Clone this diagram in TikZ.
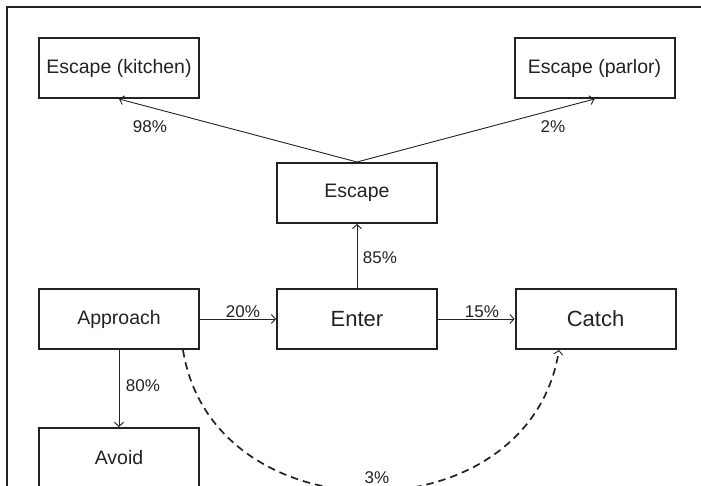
\documentclass[tikz,border=0pt]{standalone}
\usepackage{fontspec}
\setmainfont{Liberation Sans}
\usetikzlibrary{arrows.meta}
\definecolor{ink}{HTML}{222222}
\tikzset{
  box/.style={draw=ink, text=ink, line width=2pt, minimum width=160pt, minimum height=60pt, inner sep=0pt,
    font=\fontsize{19.5}{23}\selectfont},
  bigbox/.style={box, font=\fontsize{22}{26}\selectfont},
  conn/.style={draw=ink, line width=0.9pt, -{Straight Barb[length=4pt,width=9pt,line width=0.9pt]}},
  dconn/.style={draw=ink, line width=1.7pt, dash pattern=on 7.5pt off 5pt,
    -{Straight Barb[length=4pt,width=9pt,line width=0.9pt]}},
  lbl/.style={text=ink, inner sep=0pt, font=\fontsize{17}{20}\selectfont},
}
\begin{document}
\begin{tikzpicture}[x=1pt,y=1pt]
\clip (0,0) rectangle (701,-486);
\useasboundingbox (0,0) rectangle (701,-486);
\draw[ink, line width=1.4pt] (7,-520) -- (7,-7) -- (720,-7);

\node[box] (kitchen) at (119,-68) {Escape (kitchen)};
\node[box] (parlor) at (594.5,-68) {Escape (parlor)};
\node[box] (escape) at (357,-193) {Escape};
\node[box] (approach) at (119,-319) {Approach};
\node[bigbox] (enter) at (357,-319) {Enter};
\node[bigbox] (catch) at (595.5,-319) {Catch};
\node[box] (avoid) at (119,-458) {Avoid};

\draw[conn] (escape.north) -- (kitchen.south);
\draw[conn] (escape.north) -- (parlor.south);
\draw[conn] (enter.north) -- (escape.south);
\draw[conn] (approach.east) -- (enter.west);
\draw[conn] (enter.east) -- (catch.west);
\draw[conn] (approach.south) -- (avoid.north);
\draw[dconn] ([xshift=-17pt]approach.south east) .. controls +(30,-188) and +(-30,-188) .. ([xshift=-36.5pt]catch.south);

\node[lbl] (l98) at (150,-127) {98\%};
\node[lbl] (l2) at (553,-127) {2\%};
\node[lbl] (l85) at (380,-258) {85\%};
\node[lbl] (l20) at (243,-312) {20\%};
\node[lbl] (l15) at (482,-312) {15\%};
\node[lbl] (l80) at (143,-386) {80\%};
\node[lbl] (l3) at (377,-478) {3\%};
\end{tikzpicture}
\end{document}
